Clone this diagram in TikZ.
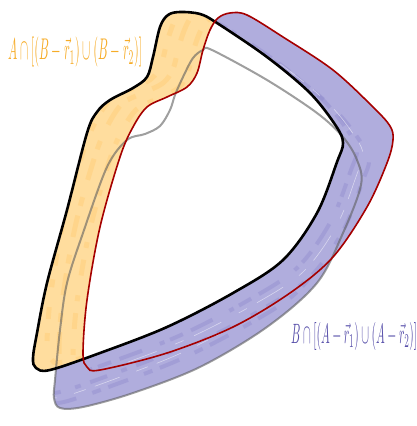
\documentclass[tikz,border=0pt]{standalone}
\usepackage{graphicx}
\definecolor{bfill}{RGB}{176,173,221}
\definecolor{bdark}{RGB}{132,126,200}
\definecolor{ofill}{RGB}{255,221,158}
\definecolor{odark}{RGB}{255,200,105}
\definecolor{otext}{RGB}{246,172,40}
\definecolor{btext}{RGB}{88,80,170}
\definecolor{redline}{RGB}{165,0,0}
\definecolor{grayline}{RGB}{95,95,95}
\tikzset{
  shapeA/.style={insert path={plot[smooth cycle,tension=0.55] coordinates{
    (180,12) (200,14) (217,23) (267,57) (310,93) (336,126) (343,143) (337,162)
    (317,213) (283,260) (233,293) (167,327) (100,353) (50,370) (36,368) (33,358)
    (37,333) (47,283) (67,210) (87,133) (97,112) (110,100) (133,88) (147,77)
    (153,57) (160,27) (168,15)}}},
  shapeR/.style={insert path={plot[smooth cycle,tension=0.55] coordinates{
    (230,13) (247,15) (283,37) (333,70) (373,107) (390,126) (393,140) (387,163)
    (367,207) (333,257) (290,293) (233,327) (167,353) (100,370) (87,367) (83,353)
    (87,300) (100,227) (120,157) (133,127) (147,107) (167,97) (187,87) (197,73)
    (203,50) (210,30) (218,18)}}},
  shapeG/.style={insert path={plot[smooth cycle,tension=0.55] coordinates{
    (203,50) (212,50) (267,80) (317,113) (343,137) (357,160) (361,185)
    (343,233) (317,283) (267,327) (200,367) (133,393) (83,407) (60,408) (54,398)
    (55,380) (60,330) (67,283) (83,233) (107,167) (127,140) (145,134) (160,126)
    (170,110) (175,95) (183,77) (193,58)}}},
  bstroke/.style={bdark, opacity=0.3, line width=4pt},
  ostroke/.style={odark, opacity=0.35, line width=5pt},
  wstroke/.style={white, opacity=0.5, line width=0.6pt, line cap=round},
  labeltext/.style={inner sep=0pt, anchor=north west}
}
\begin{document}
\begin{tikzpicture}[x=1pt,y=-1pt]
\useasboundingbox (0,0) rectangle (417,426);
% blue region: (red or gray) minus black
\fill[bfill, shapeR];
\fill[bfill, shapeG];
% blue sketch texture, inside red strip
\begin{scope}[even odd rule]
  \path[clip, shapeR];
  \path[clip, shapeA] (-10,-10) rectangle (430,440);
  \draw[bstroke, dash pattern=on 14pt off 6pt on 5pt off 19pt on 24pt off 9pt, shift={(14,8)}, shapeA];
  \draw[bstroke, dash pattern=on 7pt off 23pt on 15pt off 11pt, shift={(26,18)}, shapeA];
  \draw[wstroke, dash pattern=on 30pt off 12pt on 9pt off 20pt, shift={(20,12)}, shapeA];
\end{scope}
% blue sketch texture, inside gray strip
\begin{scope}[even odd rule]
  \path[clip, shapeG];
  \path[clip, shapeR] (-10,-10) rectangle (430,440);
  \path[clip, shapeA] (-10,-10) rectangle (430,440);
  \draw[bstroke, dash pattern=on 18pt off 10pt on 6pt off 15pt, shift={(10,22)}, shapeA];
  \draw[bstroke, dash pattern=on 9pt off 17pt on 21pt off 8pt, shift={(14,32)}, shapeA];
  \draw[wstroke, dash pattern=on 26pt off 10pt on 12pt off 18pt, shift={(12,27)}, shapeA];
\end{scope}
\fill[white, shapeA];
% orange region: black minus red
\begin{scope}[even odd rule]
  \path[clip, shapeA];
  \fill[ofill, shapeA, shapeR];
  \path[clip, shapeR] (-10,-10) rectangle (430,440);
  \draw[ostroke, dash pattern=on 16pt off 12pt on 6pt off 20pt, shift={(-10,2)}, shapeR];
  \draw[ostroke, dash pattern=on 9pt off 18pt on 22pt off 10pt, shift={(-24,-4)}, shapeR];
  \draw[ostroke, dash pattern=on 12pt off 20pt on 8pt off 14pt, shift={(-36,-8)}, shapeR];
\end{scope}
% outlines
\draw[grayline, opacity=0.6, line width=2pt, shapeG];
\draw[black, line width=2.6pt, shapeA];
\draw[redline, line width=1.6pt, shapeR];
% labels
\node[labeltext, text=otext] (la) at (8,37)
  {\resizebox*{134pt}{30pt}{$A\cap[(B-\vec{r}_1)\cup(B-\vec{r}_2)]$}};
\node[labeltext, text=btext] (lb) at (291,322)
  {\resizebox*{126pt}{28pt}{$B\cap[(A-\vec{r}_1)\cup(A-\vec{r}_2)]$}};
\end{tikzpicture}
\end{document}
